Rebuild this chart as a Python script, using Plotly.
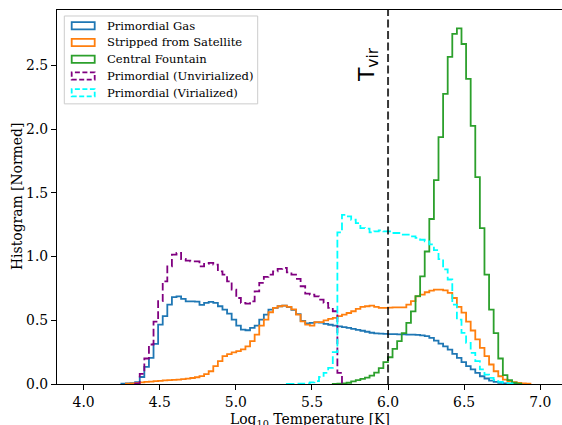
import numpy as np
import plotly.graph_objects as go

# ---------------- data ----------------
BIN_START = 3.976      # first bin edge (log10 T)
BIN_WIDTH = 0.0302     # bin width
N_BINS = 100
T_VIR = 6.0

primordial_gas = [0]*9 + [
    0.002, 0.004, 0.006, 0.015, 0.055, 0.135, 0.205, 0.315, 0.466, 0.532,
    0.623, 0.681, 0.688, 0.668, 0.649, 0.649, 0.646, 0.621, 0.636, 0.644,
    0.636, 0.610, 0.584, 0.552, 0.505, 0.458, 0.427, 0.422, 0.440, 0.458,
    0.505, 0.545, 0.584, 0.597, 0.610, 0.615, 0.603, 0.582, 0.548, 0.495,
    0.476, 0.480, 0.484, 0.482, 0.472, 0.465, 0.458, 0.452, 0.446, 0.440,
    0.432, 0.424, 0.418, 0.410, 0.402, 0.398, 0.396, 0.394, 0.392, 0.391,
    0.390, 0.389, 0.388, 0.387, 0.385, 0.382, 0.376, 0.362, 0.341, 0.317,
    0.296, 0.270, 0.236, 0.205, 0.171, 0.140, 0.114, 0.088, 0.061, 0.043,
    0.027, 0.017, 0.009, 0.005, 0.003, 0.001] + [0]*5

stripped_satellite = [0]*10 + [
    0.003, 0.005, 0.008, 0.012, 0.016, 0.019, 0.022, 0.025, 0.028, 0.030,
    0.032, 0.035, 0.038, 0.042, 0.047, 0.053, 0.062, 0.078, 0.100, 0.140,
    0.180, 0.218, 0.235, 0.248, 0.258, 0.272, 0.295, 0.336, 0.388, 0.458,
    0.505, 0.563, 0.597, 0.610, 0.615, 0.605, 0.585, 0.545, 0.492, 0.466,
    0.458, 0.485, 0.485, 0.500, 0.511, 0.519, 0.532, 0.545, 0.557, 0.571,
    0.589, 0.605, 0.610, 0.615, 0.605, 0.597, 0.597, 0.600, 0.602, 0.602,
    0.602, 0.623, 0.650, 0.688, 0.701, 0.720, 0.733, 0.741, 0.741, 0.735,
    0.715, 0.675, 0.605, 0.560, 0.490, 0.420, 0.350, 0.284, 0.218, 0.153,
    0.100, 0.061, 0.035, 0.022, 0.014, 0.008, 0.004, 0.002] + [0]*2

central_fountain = [0]*55 + [
    0.001, 0.003, 0.005, 0.010, 0.020, 0.030, 0.040, 0.050, 0.065, 0.090,
    0.125, 0.172, 0.210, 0.276, 0.336, 0.400, 0.480, 0.570, 0.690, 0.845,
    1.040, 1.295, 1.600, 1.937, 2.277, 2.567, 2.747, 2.791, 2.668, 2.394,
    2.026, 1.624, 1.224, 0.858, 0.584, 0.400, 0.200, 0.070, 0.030, 0.010,
    0.003] + [0]*4

primordial_unvir = [0]*12 + [
    0.005, 0.080, 0.200, 0.310, 0.490, 0.650, 0.806, 0.923, 1.015, 1.028,
    0.981, 0.968, 0.963, 0.963, 0.923, 0.942, 0.950, 0.937, 0.884, 0.858,
    0.806, 0.741, 0.675, 0.636, 0.631, 0.649, 0.727, 0.793, 0.840, 0.858,
    0.884, 0.903, 0.911, 0.876, 0.858, 0.825, 0.767, 0.709, 0.701, 0.688,
    0.662, 0.636, 0.597, 0.571, 0.088] + [0]*43

primordial_vir = [0]*45 + [
    0.001, 0.001, 0.002, 0.003, 0.005, 0.012, 0.022, 0.055, 0.088, 0.127,
    0.250, 1.190, 1.328, 1.315, 1.289, 1.263, 1.224, 1.220, 1.190, 1.198,
    1.205, 1.198, 1.198, 1.185, 1.185, 1.172, 1.172, 1.158, 1.146, 1.132,
    1.120, 1.095, 1.050, 0.980, 0.900, 0.820, 0.623, 0.505, 0.401, 0.323,
    0.245, 0.179, 0.114, 0.074, 0.048, 0.030, 0.017, 0.009, 0.004, 0.002] + [0]*5

series_names = ["Primordial Gas", "Stripped from Satellite", "Central Fountain",
                "Primordial (Unvirialized)", "Primordial (Virialized)"]
series_values = [primordial_gas, stripped_satellite, central_fountain,
                 primordial_unvir, primordial_vir]
series_colors = ["#1f77b4", "#ff7f0e", "#2ca02c", "purple", "cyan"]
series_dash = ["solid", "solid", "solid", "7.7px,3.3px", "7.7px,3.3px"]

x_ticks = [4.0, 4.5, 5.0, 5.5, 6.0, 6.5, 7.0]
y_ticks = [0.0, 0.5, 1.0, 1.5, 2.0, 2.5]

# ---------------- figure ----------------
W, H = 562, 425
ML, MR, MT, MB = 57, 0, 10, 40.5
PW, PH = W - ML - MR, H - MT - MB
XPPU = 152.2
X0 = 3.825
Y_TOP = 2.935

edges = BIN_START + BIN_WIDTH * np.arange(N_BINS + 1)

fig = go.Figure()
for name, vals, col, dash in zip(series_names, series_values, series_colors, series_dash):
    assert len(vals) == N_BINS, (name, len(vals))
    nz = [i for i, v in enumerate(vals) if v > 0]
    i0, i1 = nz[0], nz[-1]
    xs = [edges[i0]] + list(edges[i0:i1 + 1]) + [edges[i1 + 1], edges[i1 + 1]]
    ys = [0] + list(vals[i0:i1 + 1]) + [vals[i1], 0]
    fig.add_trace(go.Scatter(x=xs, y=ys, mode="lines", name=name,
                             line=dict(color=col, width=1.8, dash=dash, shape="hv"),
                             showlegend=False, hoverinfo="skip"))

def pxx(p):
    return (p - ML) / PW

def pxy(p):
    return (MT + PH - p) / PH

shapes = []
annotations = []

# T_vir line
shapes.append(dict(type="line", xref="x", yref="paper", x0=T_VIR, x1=T_VIR, y0=0, y1=1,
                   line=dict(color="rgba(0,0,0,0.78)", width=2, dash="8px,3.5px")))
annotations.append(dict(x=5.868, y=2.51, xref="x", yref="y", text="T<sub>vir</sub>",
                        textangle=-90, showarrow=False,
                        font=dict(family="DejaVu Sans", size=22, color="black")))

# manual legend
shapes.append(dict(type="rect", xref="paper", yref="paper",
                   x0=pxx(64.3), x1=pxx(257.7), y0=pxy(104), y1=pxy(16),
                   line=dict(color="#cccccc", width=1), fillcolor="rgba(255,255,255,0.8)",
                   layer="above"))
row_centers = [25.8, 42.5, 59.3, 76.1, 92.8]
for yc, name, col, dash in zip(row_centers, series_names, series_colors, series_dash):
    shapes.append(dict(type="rect", xref="paper", yref="paper",
                       x0=pxx(71.7), x1=pxx(94.7), y0=pxy(yc + 3.6), y1=pxy(yc - 3.6),
                       line=dict(color=col, width=1.8, dash="5px,2.5px" if dash != "solid" else "solid"),
                       fillcolor="rgba(0,0,0,0)", layer="above"))
    annotations.append(dict(x=pxx(104.5), y=pxy(yc), xref="paper", yref="paper",
                            text=name, showarrow=False, xanchor="left", yanchor="middle",
                            font=dict(family="DejaVu Serif", size=11.6, color="black")))

# axis titles
annotations.append(dict(x=0.5, y=pxy(410), xref="paper", yref="paper",
                        text="Log<sub>10</sub> Temperature [K]", showarrow=False,
                        xanchor="center", yanchor="top",
                        font=dict(family="DejaVu Serif", size=13.9, color="black")))
annotations.append(dict(x=pxx(17), y=0.5, xref="paper", yref="paper",
                        text="Histogram [Normed]", showarrow=False, textangle=-90,
                        xanchor="center", yanchor="middle",
                        font=dict(family="DejaVu Serif", size=13.9, color="black")))

fig.update_layout(
    width=W, height=H,
    margin=dict(l=ML, r=MR, t=MT, b=MB, pad=0),
    paper_bgcolor="white", plot_bgcolor="white",
    font=dict(family="DejaVu Serif", size=13.9, color="black"),
    shapes=shapes, annotations=annotations, showlegend=False,
    xaxis=dict(range=[X0, X0 + PW / XPPU], tickvals=x_ticks,
               ticktext=[f"{v:.1f}" for v in x_ticks],
               showgrid=False, zeroline=False, showline=True, mirror=True,
               linecolor="black", linewidth=1.1, ticks="outside", ticklen=5,
               tickwidth=1.1, tickcolor="black"),
    yaxis=dict(range=[0, Y_TOP], tickvals=y_ticks,
               ticktext=[f"{v:.1f}" for v in y_ticks],
               showgrid=False, zeroline=False, showline=True, mirror=False,
               linecolor="black", linewidth=1.1, ticks="outside", ticklen=5,
               tickwidth=1.1, tickcolor="black"),
)

fig.write_html("out.html")
